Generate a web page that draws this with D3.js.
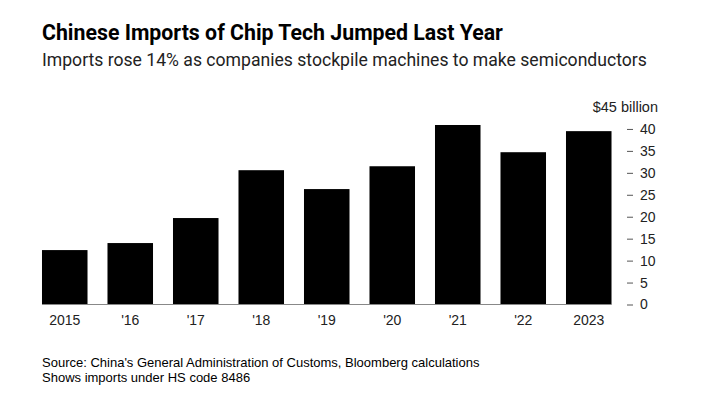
<!DOCTYPE html>
<html>
<head>
<meta charset="utf-8">
<script src="https://cdn.jsdelivr.net/npm/d3@7"></script>
<style>
  body { margin: 0; background: #fff; }
  text { font-family: "Liberation Sans", Arial, sans-serif; }
</style>
</head>
<body>
<script>
const width = 702;
const height = 402;

// Data ($ billion)
const years = ["2015", "'16", "'17", "'18", "'19", "'20", "'21", "'22", "2023"];
const imports = [12.4, 14.0, 19.7, 30.6, 26.3, 31.5, 40.9, 34.7, 39.5];
const yTicks = [0, 5, 10, 15, 20, 25, 30, 35, 40];

const svg = d3.select("body").append("svg")
  .attr("width", width)
  .attr("height", height);

// Title and subtitle
svg.append("text")
  .attr("x", 42).attr("y", 40)
  .style("font-family", "Roboto, sans-serif")
  .style("font-weight", "bold")
  .style("font-size", "21.3px")
  .attr("fill", "#000")
  .text("Chinese Imports of Chip Tech Jumped Last Year");

svg.append("text")
  .attr("x", 42).attr("y", 66)
  .style("font-family", "Roboto, sans-serif")
  .style("font-size", "17.6px")
  .attr("fill", "#222")
  .text("Imports rose 14% as companies stockpile machines to make semiconductors");

// Scales
const x = d3.scaleBand()
  .domain(years)
  .range([32, 621.5])
  .paddingInner(0.305)
  .paddingOuter(0.1525);

const y = d3.scaleLinear()
  .domain([0, 45])
  .range([304.5, 107]);

// Bars
svg.append("g")
  .selectAll("rect")
  .data(imports)
  .enter().append("rect")
  .attr("x", (d, i) => x(years[i]))
  .attr("y", d => y(d))
  .attr("width", x.bandwidth())
  .attr("height", d => y(0) - y(d))
  .attr("fill", "#000");

// Baseline
svg.append("line")
  .attr("x1", x(years[0]))
  .attr("x2", x(years[years.length - 1]) + x.bandwidth())
  .attr("y1", y(0)).attr("y2", y(0))
  .attr("stroke", "#888")
  .attr("stroke-width", 1);

// X axis labels
const xAxis = d3.axisBottom(x).tickSize(0).tickPadding(11);
const gx = svg.append("g")
  .attr("transform", `translate(0,${y(0)})`)
  .call(xAxis);
gx.select(".domain").remove();
gx.selectAll("text")
  .style("font-size", "14px")
  .attr("fill", "#222");

// Y axis on the right
const yAxis = d3.axisRight(y)
  .tickValues(yTicks)
  .tickSize(6)
  .tickPadding(7);
const gy = svg.append("g")
  .attr("transform", "translate(627,0)")
  .call(yAxis);
gy.select(".domain").remove();
gy.selectAll(".tick line").attr("stroke", "#555");
gy.selectAll("text")
  .style("font-size", "14px")
  .attr("fill", "#222");

// Unit label at the top tick
svg.append("text")
  .attr("x", 658).attr("y", y(45))
  .attr("dy", "0.32em")
  .attr("text-anchor", "end")
  .style("font-size", "14.5px")
  .attr("fill", "#222")
  .text("$45 billion");

// Footnotes
svg.append("text")
  .attr("x", 42).attr("y", 367)
  .style("font-size", "13px")
  .attr("fill", "#000")
  .text("Source: China's General Administration of Customs, Bloomberg calculations");

svg.append("text")
  .attr("x", 42).attr("y", 382)
  .style("font-size", "13px")
  .attr("fill", "#000")
  .text("Shows imports under HS code 8486");
</script>
</body>
</html>
